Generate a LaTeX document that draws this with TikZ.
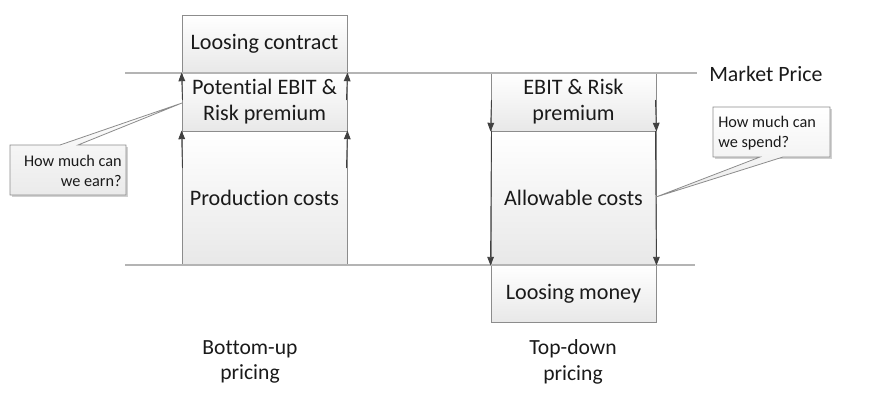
\documentclass[tikz,border=0pt]{standalone}
\usepackage{fontspec}
\setmainfont{Carlito}[Ligatures=CommonOff]
\usetikzlibrary{arrows.meta}
\definecolor{boxline}{HTML}{8C8C8C}
\definecolor{refline}{HTML}{B4B4B4}
\definecolor{arrowc}{HTML}{404040}
\definecolor{txt}{HTML}{1A1A1A}
\begin{document}
\begin{tikzpicture}[x=0.75pt,y=-0.75pt,
  pricebox/.style={draw=boxline,line width=0.7pt,top color=white,bottom color=black!9,
    minimum width=123.75pt,inner sep=0pt,align=center,text=txt,
    font=\fontsize{16.6}{19.5}\selectfont},
  refrule/.style={draw=refline,line width=0.8pt},
  edgearrow/.style={draw=arrowc,line width=0.7pt,-{Triangle[length=6.5pt,width=5pt]}},
  callout/.style={draw=boxline,line width=0.6pt,top color=white,bottom color=black!8},
  calloutshadow/.style={fill=black!18,draw=none},
  callouttext/.style={inner sep=0pt,text=txt,font=\fontsize{12.2}{14.5}\selectfont},
  caption/.style={align=center,text=txt,inner sep=0pt,font=\fontsize{16.2}{19}\selectfont}]
\useasboundingbox (0,0) rectangle (878,407);

% reference lines
\coordinate (mpL) at (125,73);
\coordinate (mpR) at (697,73);
\coordinate (lmL) at (125,265);
\coordinate (lmR) at (695,265);

% left column
\node[pricebox,minimum height=43.5pt] (lc) at (264.5,44) {Loosing contract};
\node[pricebox,minimum height=43.5pt] (pe) at (264.5,102) {Potential EBIT \&\\Risk premium};
\node[pricebox,minimum height=100.5pt] (pc) at (264.5,198) {Production costs};

% right column
\node[pricebox,minimum height=43.5pt] (er) at (573.5,102) {EBIT \& Risk\\premium};
\node[pricebox,minimum height=100.5pt] (ac) at (573.5,198) {Allowable costs};
\node[pricebox,minimum height=42.75pt] (lm) at (573.5,293.5) {Loosing money};

\draw[refrule] (mpL) -- (mpR);
\draw[refrule] (lmL) -- (lmR);
\node[anchor=west,inner sep=0pt,text=txt,font=\fontsize{16.4}{19}\selectfont] (mp) at (709,74) {Market Price};

% arrows left (upward)
\coordinate (la1) at (182.5,100);
\coordinate (la2) at (182.5,168);
\coordinate (ra1) at (346.5,100);
\coordinate (ra2) at (346.5,168);
\draw[edgearrow] (la1) -- (pe.north west);
\draw[edgearrow] (la2) -- (pc.north west);
\draw[edgearrow] (ra1) -- (pe.north east);
\draw[edgearrow] (ra2) -- (pc.north east);

% arrows right (downward)
\coordinate (lb1) at (491.5,100);
\coordinate (lb2) at (491.5,131);
\coordinate (rb1) at (655.5,100);
\coordinate (rb2) at (655.5,131);
\draw[edgearrow] (lb1) -- (er.south west);
\draw[edgearrow] (lb2) -- (ac.south west);
\draw[edgearrow] (rb1) -- (er.south east);
\draw[edgearrow] (rb2) -- (ac.south east);

% left callout
\coordinate (ctipL) at (182,103);
\fill[calloutshadow] (12,147) -- (128,147) -- (128,197) -- (12,197) -- cycle;
\path[callout] (10,145) -- (60,145) -- (ctipL) -- (78,145) -- (126,145) -- (126,195) -- (10,195) -- cycle;
\node[callouttext,anchor=east,align=right] (qearn) at (122,171) {How much can\\we earn?};

% right callout
\coordinate (ctipR) at (656,197);
\fill[calloutshadow] (715,109) -- (832,109) -- (832,159) -- (715,159) -- cycle;
\path[callout] (713,107) -- (830,107) -- (830,157) -- (783,157) -- (ctipR) -- (760,157) -- (713,157) -- cycle;
\node[callouttext,anchor=west,align=left] (qspend) at (718,133) {How much can\\we spend?};

% captions
\node[caption] (bu) at (250,362) {Bottom-up\\pricing};
\node[caption] (td) at (573,362) {Top-down\\pricing};
\end{tikzpicture}
\end{document}
